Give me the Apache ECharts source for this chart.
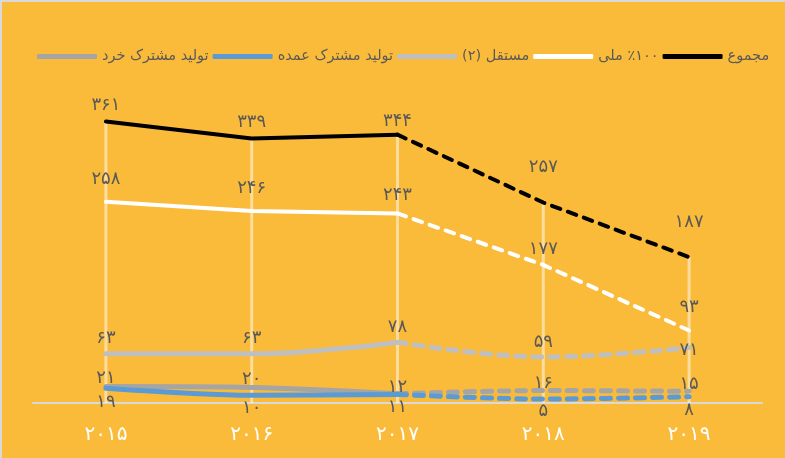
<!DOCTYPE html>
<html>
<head>
<meta charset="utf-8">
<script src="https://cdn.jsdelivr.net/npm/echarts@6/dist/echarts.min.js"></script>
<style>
html,body{margin:0;padding:0;background:#fff;}
#c{width:785px;height:458px;box-sizing:border-box;border-left:2px solid #d9d9d9;border-top:2px solid #d9d9d9;background:#FBBB3A;}
</style>
</head>
<body>
<div id="c" dir="rtl"></div>
<script>
// Data
const years = ['2015', '2016', '2017', '2018', '2019'];
const total = [361, 339, 344, 257, 187];          // مجموع
const national = [258, 246, 243, 177, 93];        // ٪۱۰۰ ملی
const independent = [63, 63, 78, 59, 71];         // مستقل (۲)
const jointMajor = [19, 10, 11, 5, 8];            // تولید مشترک عمده
const jointMinor = [21, 20, 12, 16, 15];          // تولید مشترک خرد
const projectedFrom = 2; // index from which lines are dashed

const names = {
  total: 'مجموع',
  national: '٪۱۰۰ ملی',
  independent: 'مستقل (۲)',
  jointMajor: 'تولید مشترک عمده',
  jointMinor: 'تولید مشترک خرد'
};

// label distances (style only, per point)
const distTotal = [7, 7, 4, 26, 26];
const distNational = [13, 14, 9, 7, 14];
const distIndependent = [6, 6, 6, 6, -12];
const distMinor = [-1, -1, -3, -2, -2];
const distMajor = [5, 4, 4, 3, 5];

const fa = s => String(s).replace(/\d/g, d => '۰۱۲۳۴۵۶۷۸۹'[d]);
const FONT = 'DejaVu Sans';
const LABEL_COLOR = '#595959';

function items(arr, dists, keep){
  return arr.map((v,i)=> keep(i) ? {value: v, label: {distance: dists[i]}} : null);
}

function pair(key, arr, dists, color, width, labelPos, smooth, z){
  const label = {
    show: true, position: labelPos,
    color: LABEL_COLOR, fontFamily: FONT, fontSize: 18,
    formatter: p => fa(p.value)
  };
  const base = {
    type: 'line', symbol: 'circle', symbolSize: 0.1, showSymbol: true,
    smooth: smooth, z: z, connectNulls: false
  };
  return [
    Object.assign({}, base, {
      name: names[key],
      data: items(arr, dists, i => i <= projectedFrom),
      lineStyle: {color: color, width: width, cap: 'round'},
      itemStyle: {color: color},
      label: Object.assign({}, label)
    }),
    Object.assign({}, base, {
      name: names[key] + ' ',
      data: items(arr, dists, i => i >= projectedFrom),
      lineStyle: {color: color, width: width, type: [9, 8], cap: 'round'},
      itemStyle: {color: color},
      label: Object.assign({}, label, {
        formatter: p => p.dataIndex > projectedFrom ? fa(p.value) : ''
      })
    })
  ];
}

const series = [
  {
    type: 'bar', name: 'drop', data: total, barWidth: 3, z: 1,
    itemStyle: {color: 'rgba(255,255,255,0.5)'},
    silent: true, tooltip: {show: false}
  },
  ...pair('jointMinor', jointMinor, distMinor, '#A5A5A5', 5, 'top', 0.3, 2),
  ...pair('jointMajor', jointMajor, distMajor, '#5B9BD5', 5, 'bottom', 0.3, 3),
  ...pair('independent', independent, distIndependent, '#BFBFBF', 5, 'top', 0.4, 4),
  ...pair('national', national, distNational, '#FFFFFF', 4, 'top', false, 5),
  ...pair('total', total, distTotal, '#000000', 4, 'top', false, 6)
];

const chart = echarts.init(document.getElementById('c'), null, {renderer: 'canvas'});
chart.setOption({
  animation: false,
  backgroundColor: 'transparent',
  grid: {left: 31, right: 23, top: 89, bottom: 55},
  legend: {
    left: 30, top: 42, width: 770,
    itemWidth: 60, itemHeight: 5, itemGap: 4,
    icon: 'roundRect',
    textStyle: {color: LABEL_COLOR, fontFamily: FONT, fontSize: 14.5},
    data: [names.jointMinor, names.jointMajor, names.independent, names.national, names.total]
  },
  xAxis: {
    type: 'category',
    data: years,
    axisLine: {lineStyle: {color: '#D9D9D9', width: 2}},
    axisTick: {show: false},
    axisLabel: {color: '#FFFFFF', fontFamily: FONT, fontSize: 20, margin: 22, formatter: v => fa(v)}
  },
  yAxis: {
    type: 'value', min: 0, max: 400, show: false,
    splitLine: {show: false}
  },
  series: series
});
</script>
</body>
</html>
